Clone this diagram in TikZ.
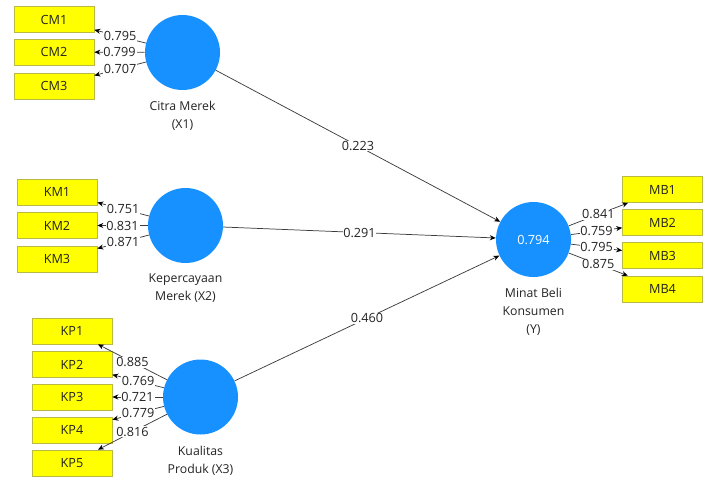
\documentclass[tikz,border=0pt]{standalone}
\usepackage{fontspec}
\setmainfont{Open Sans}
\usetikzlibrary{arrows.meta}
\definecolor{lv}{RGB}{22,145,255}
\definecolor{ind}{RGB}{255,255,0}
\definecolor{indb}{RGB}{185,185,70}
\definecolor{ln}{RGB}{60,60,60}
\definecolor{txt}{RGB}{35,35,35}
\begin{document}
\begin{tikzpicture}[x=0.75pt,y=-0.75pt,
 lat/.style={circle,fill=lv,minimum size=56.25pt,inner sep=0pt,font=\fontsize{9.5}{11}\selectfont,text=white},
 indic/.style={rectangle,fill=ind,draw=indb,line width=0.5pt,minimum width=60pt,minimum height=19.5pt,inner sep=0pt,font=\fontsize{9.5}{11}\selectfont,text=txt},
 lab/.style={font=\fontsize{9.2}{13.5}\selectfont,text=txt,align=center},
 conn/.style={-{Stealth[length=4.5pt,width=3.8pt,color=black]},draw=ln,line width=0.55pt},
 val/.style={fill=white,inner sep=0.6pt,font=\fontsize{9.5}{11}\selectfont,text=txt},
]
\path[use as bounding box] (0,0) rectangle (707,479);
% latent variables
\node[lat] (X1) at (182.5,52.5) {};
\node[lat] (X2) at (185.5,225.5) {};
\node[lat] (X3) at (200.5,397) {};
\node[lat] (Y) at (533.5,239.5) {0.794};
\node[lab] (X1l) at (182.5,116) {Citra Merek\\(X1)};
\node[lab] (X2l) at (185.5,288.5) {Kepercayaan\\Merek (X2)};
\node[lab] (X3l) at (200.5,460.5) {Kualitas\\Produk (X3)};
\node[lab] (Yl) at (533.5,312) {Minat Beli\\Konsumen\\(Y)};
% indicators
\node[indic] (CM1) at (54,19.5) {CM1};
\node[indic] (CM2) at (54,52) {CM2};
\node[indic] (CM3) at (54,86) {CM3};
\node[indic] (KM1) at (57,192) {KM1};
\node[indic] (KM2) at (57,225.5) {KM2};
\node[indic] (KM3) at (57,259) {KM3};
\node[indic] (KP1) at (72,331) {KP1};
\node[indic] (KP2) at (72,364.5) {KP2};
\node[indic] (KP3) at (72,397) {KP3};
\node[indic] (KP4) at (72,430) {KP4};
\node[indic] (KP5) at (72,463) {KP5};
\node[indic] (MB1) at (662.5,189.5) {MB1};
\node[indic] (MB2) at (662.5,222.5) {MB2};
\node[indic] (MB3) at (662.5,255.5) {MB3};
\node[indic] (MB4) at (662.5,289) {MB4};
% loadings
\draw[conn] (X1) -- node[val]{0.795} (CM1);
\draw[conn] (X1) -- node[val]{0.799} (CM2);
\draw[conn] (X1) -- node[val]{0.707} (CM3);
\draw[conn] (X2) -- node[val]{0.751} (KM1);
\draw[conn] (X2) -- node[val]{0.831} (KM2);
\draw[conn] (X2) -- node[val]{0.871} (KM3);
\draw[conn] (X3) -- node[val]{0.885} (KP1);
\draw[conn] (X3) -- node[val]{0.769} (KP2);
\draw[conn] (X3) -- node[val]{0.721} (KP3);
\draw[conn] (X3) -- node[val]{0.779} (KP4);
\draw[conn] (X3) -- node[val]{0.816} (KP5);
\draw[conn] (Y) -- node[val]{0.841} (MB1);
\draw[conn] (Y) -- node[val]{0.759} (MB2);
\draw[conn] (Y) -- node[val]{0.795} (MB3);
\draw[conn] (Y) -- node[val]{0.875} (MB4);
% paths
\draw[conn] (X1) -- node[val]{0.223} (Y);
\draw[conn] (X2) -- node[val]{0.291} (Y);
\draw[conn] (X3) -- node[val]{0.460} (Y);
\end{tikzpicture}
\end{document}
